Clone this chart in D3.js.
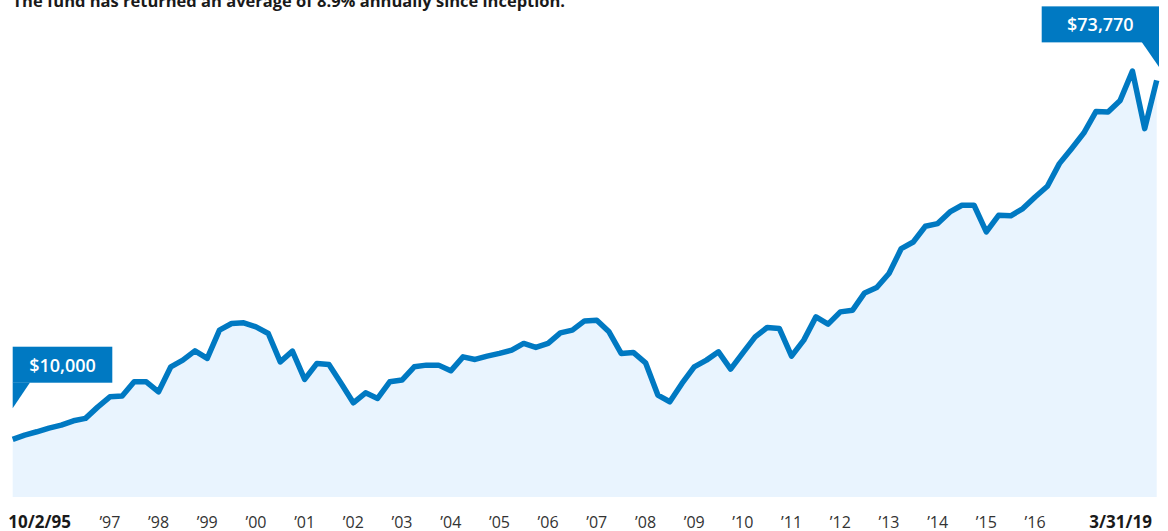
<!DOCTYPE html>
<html>
<head>
<meta charset="utf-8">
<script src="https://cdn.jsdelivr.net/npm/d3@7"></script>
<style>
	body { margin: 0; background: #fff; }
	svg { display: block; }
</style>
</head>
<body>
<div id="chart"></div>
<script>
// Growth of $10,000, quarterly values
const startDate = new Date(1995, 9, 2);
const values = [
	10000, 10760, 11340, 12000, 12530, 13290, 13720, 15720, 17550, 17680,
	20220, 20220, 18440, 22880, 24070, 25720, 24370, 29390, 30580, 30690,
	29980, 28800, 23760, 25660, 20640, 23480, 23300, 19980, 16490, 18260,
	17270, 20220, 20520, 22880, 23180, 23180, 22170, 24650, 24190, 24780,
	25260, 25840, 27030, 26320, 27030, 28910, 29390, 31040, 31170, 29090,
	25260, 25430, 23590, 17860, 16670, 19930, 22880, 24070, 25540, 22470,
	25360, 28200, 29870, 29690, 24780, 27620, 31750, 30460, 32640, 32940,
	36010, 36970, 39450, 43890, 45060, 47850, 48330, 50390, 51580, 51580,
	46840, 49800, 49710, 50990, 53050, 54950, 58980, 61640, 64410, 68260,
	68140, 70210, 75410, 65190, 73770
];
const tickYears = [1997, 1998, 1999, 2000, 2001, 2002, 2003, 2004, 2005, 2006,
	2007, 2008, 2009, 2010, 2011, 2012, 2013, 2014, 2015, 2016];
const tickLabels = ["’97", "’98", "’99", "’00", "’01", "’02", "’03", "’04", "’05", "’06",
	"’07", "’08", "’09", "’10", "’11", "’12", "’13", "’14", "’15", "’16"];
const startLabel = "10/2/95";
const endLabel = "3/31/19";
const startCallout = "$10,000";
const endCallout = "$73,770";
const title = "The fund has returned an average of 8.9% annually since inception.";

const width = 1168, height = 531;
const blue = "#0079c2";

// first point is the inception date, the rest are quarter ends
const data = values.map((v, i) => ({
	date: i === 0 ? startDate : new Date(1995, 9 + 3 * i, 0),
	value: v
}));
const endDate = data[data.length - 1].date;

const svg = d3.select("#chart")
	.append("svg")
	.attr("width", width)
	.attr("height", height);

const x = d3.scaleTime()
	.domain([startDate, endDate])
	.range([12.7, 1156.7]);

const y = d3.scaleLinear()
	.domain([0, 80000])
	.range([495.6, 45.3]);

// Area fill
const area = d3.area()
	.x(d => x(d.date))
	.y0(y(0) + 1.5)
	.y1(d => y(d.value));

svg.append("path")
	.datum(data)
	.attr("fill", "#e9f4fe")
	.attr("d", area);

// Line
const line = d3.line()
	.x(d => x(d.date))
	.y(d => y(d.value));

svg.append("path")
	.datum(data)
	.attr("fill", "none")
	.attr("stroke", blue)
	.attr("stroke-width", 5.5)
	.attr("stroke-linejoin", "round")
	.attr("d", line);

// Title (cut off at the top edge, as in the source)
svg.append("text")
	.attr("x", 12.5)
	.attr("y", 7)
	.style("font-family", "'Open Sans', sans-serif")
	.style("font-weight", 700)
	.style("font-size", "16.5px")
	.attr("fill", "#1a1a1a")
	.text(title);

// X axis labels
const labelY = 527.5;
svg.append("g")
	.selectAll("text")
	.data(tickYears)
	.enter().append("text")
	.attr("x", d => x(new Date(d, 9, 0)))
	.attr("y", labelY)
	.attr("text-anchor", "middle")
	.style("font-family", "'Open Sans', sans-serif")
	.style("font-size", "16px")
	.attr("fill", "#333")
	.text((d, i) => tickLabels[i]);

svg.append("text")
	.attr("x", 8.3)
	.attr("y", labelY)
	.style("font-family", "'Open Sans', sans-serif")
	.style("font-weight", 700)
	.style("font-size", "17px")
	.attr("fill", "#1a1a1a")
	.text(startLabel);

svg.append("text")
	.attr("x", 1152)
	.attr("y", labelY)
	.attr("text-anchor", "end")
	.style("font-family", "'Open Sans', sans-serif")
	.style("font-weight", 700)
	.style("font-size", "17px")
	.attr("fill", "#1a1a1a")
	.text(endLabel);

// Callouts
function callout(left, top, w, pointer, label) {
	const g = svg.append("g");
	g.append("rect")
		.attr("x", left)
		.attr("y", top)
		.attr("width", w)
		.attr("height", 36)
		.attr("fill", blue);
	g.append("path")
		.attr("d", d3.line()(pointer))
		.attr("fill", blue);
	g.append("text")
		.attr("x", left + w / 2)
		.attr("y", top + 25)
		.attr("text-anchor", "middle")
		.style("font-family", "'Open Sans', sans-serif")
		.style("font-weight", 600)
		.style("font-size", "18px")
		.attr("fill", "#fff")
		.text(label);
}

const x0 = x(data[0].date), y0 = y(data[0].value);
callout(x0, y0 - 92.6, 99.6,
	[[x0, y0 - 56.8], [x0 + 17.3, y0 - 56.8], [x0, y0 - 31]], startCallout);

const xN = x(endDate), yN = y(values[values.length - 1]);
callout(xN - 115, yN - 74, 117.3,
	[[xN - 15, yN - 38.3], [xN + 2.3, yN - 38.3], [xN + 2.3, yN - 13.3]], endCallout);
</script>
</body>
</html>
